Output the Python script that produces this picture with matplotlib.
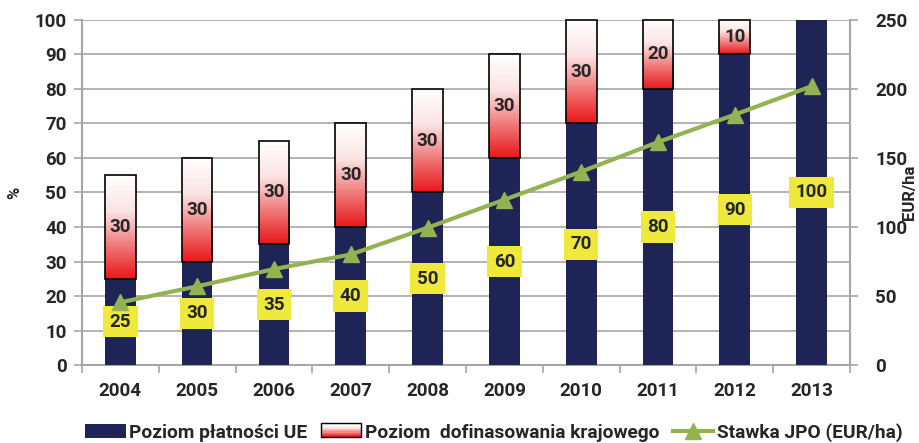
import matplotlib

matplotlib.use("Agg")
import matplotlib.pyplot as plt
import numpy as np
from matplotlib.colors import LinearSegmentedColormap
from matplotlib.legend_handler import HandlerBase
from matplotlib.lines import Line2D
from matplotlib.patches import Rectangle

# ── data ────────────────────────────────────────────────────────────────────
years = ["2004", "2005", "2006", "2007", "2008", "2009", "2010", "2011", "2012", "2013"]
ue_level = [25, 30, 35, 40, 50, 60, 70, 80, 90, 100]
national_level = [30, 30, 30, 30, 30, 30, 30, 20, 10, 0]
jpo_rate = [45.4, 57.0, 69.5, 80.1, 99.5, 119.8, 140.1, 161.5, 181.4, 202.0]

# ── colours ─────────────────────────────────────────────────────────────────
NAVY = "#1f2456"
RED = "#e8191c"
GREEN = "#93b352"
YELLOW = "#efe93c"
GRID = "#a6a6a6"
TEXT = "#262626"
FONT = "Roboto"
FS = 13.5

plt.rcParams["font.family"] = [FONT, "DejaVu Sans"]
plt.rcParams["font.weight"] = "bold"

grad_cmap = LinearSegmentedColormap.from_list(
    "wr", [(0, "#ffffff"), (0.35, "#fbe3e3"), (0.7, "#f07272"), (1, RED)]
)


class GradientHandler(HandlerBase):
    def create_artists(self, legend, orig, xd, yd, w, h, fontsize, trans):
        arts = []
        n = 12
        for i in range(n):
            r = Rectangle((xd, yd + h * (n - 1 - i) / n), w, h / n,
                          facecolor=grad_cmap(i / (n - 1)), edgecolor="none",
                          transform=trans)
            arts.append(r)
        arts.append(Rectangle((xd, yd), w, h, facecolor="none",
                              edgecolor="black", lw=1.0, transform=trans))
        return arts


fig = plt.figure(figsize=(9.2, 4.43), dpi=100)
ax = fig.add_axes([0.089, 0.176, 0.835, 0.779])
x = np.arange(len(years))
width = 0.4

ax.bar(x, ue_level, width, color=NAVY, zorder=3)
top_bars = ax.bar(x, national_level, width, bottom=ue_level, color="none",
                  edgecolor="black", linewidth=1.2, zorder=4)
for bar in top_bars:
    bar.set_clip_on(False)
    if bar.get_height() <= 0:
        bar.set_visible(False)
        continue
    x0, y0 = bar.get_x(), bar.get_y()
    grad = np.linspace(0, 1, 100).reshape(-1, 1)
    ax.imshow(grad, cmap=grad_cmap, aspect="auto", origin="upper",
              extent=(x0, x0 + bar.get_width(), y0, y0 + bar.get_height()),
              zorder=3.5, interpolation="bilinear")

ax.set_xlim(-0.5, len(years) - 0.5)
ax.set_ylim(0, 100)

# labels
for xi, u, n in zip(x, ue_level, national_level):
    ax.text(xi, u / 2, str(u), ha="center", va="center", fontsize=FS,
            fontweight="bold", color=TEXT, zorder=6,
            bbox=dict(boxstyle="square,pad=0.35", fc=YELLOW, ec="none"))
    if n > 0:
        ax.text(xi, u + n / 2, str(n), ha="center", va="center", fontsize=FS,
                fontweight="bold", color=TEXT, zorder=6)

ax.set_yticks(range(0, 101, 10))
ax.set_xticks(x)
ax.set_xticklabels(years)
ax.set_xticks(np.arange(-0.5, len(years)), minor=True)
ax.tick_params(axis="x", which="major", length=0, pad=12, labelsize=FS, colors=TEXT)
ax.tick_params(axis="x", which="minor", length=6, color=GRID, width=1.2)
ax.tick_params(axis="y", length=6, color=GRID, width=1.2, labelsize=FS,
               labelcolor=TEXT, pad=5)
ax.grid(axis="y", color=GRID, linewidth=1.2, zorder=0)
for s in ["top", "right"]:
    ax.spines[s].set_visible(False)
for s in ["left", "bottom"]:
    ax.spines[s].set_color(GRID)
    ax.spines[s].set_linewidth(1.5)
ax.set_ylabel("%", fontsize=12, fontweight="bold", color=TEXT)
ax.yaxis.set_label_coords(-0.078, 0.5)

ax2 = ax.twinx()
ax2.plot(x, jpo_rate, color=GREEN, linewidth=3, marker="^", markersize=11, zorder=5)
ax2.set_ylim(0, 250)
ax2.set_yticks(range(0, 251, 50))
ax2.tick_params(axis="y", length=6, color=GRID, width=1.2, labelsize=FS,
                labelcolor=TEXT, pad=12)
for s in ["top", "left", "bottom"]:
    ax2.spines[s].set_visible(False)
ax2.spines["right"].set_color(GRID)
ax2.spines["right"].set_linewidth(1.5)
ax2.set_ylabel("EUR/ha", fontsize=12, fontweight="bold", color=TEXT)
ax2.yaxis.set_label_coords(1.067, 0.5)

handles = [
    Rectangle((0, 0), 1, 1, facecolor=NAVY),
    Rectangle((0, 0), 1, 1),
    Line2D([], [], color=GREEN, linewidth=3, marker="^", markersize=11),
]
labels = ["Poziom płatności UE", "Poziom  dofinasowania krajowego", "Stawka JPO (EUR/ha)"]
fig.legend(handles, labels, loc="center", bbox_to_anchor=(0.537, 0.024), ncol=3,
           frameon=False, fontsize=13.8, handlelength=2.1, handleheight=0.75,
           handletextpad=0.2, columnspacing=0.7,
           handler_map={handles[1]: GradientHandler()}, labelcolor=TEXT)

fig.savefig("out.png", dpi=100)
